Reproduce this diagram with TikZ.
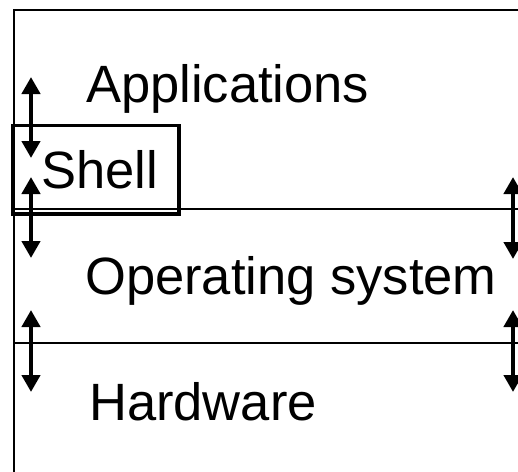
\documentclass[tikz,border=0pt]{standalone}
\usepackage{fontspec}
\setmainfont{Liberation Sans}
\usetikzlibrary{arrows.meta}
\tikzset{
  lbl/.style={anchor=base west, inner sep=0pt, font=\fontsize{52.5}{60}\selectfont},
  frame/.style={line width=2pt},
  sep/.style={line width=2pt},
  shellbox/.style={line width=3.5pt},
  dbl/.style={line width=4.5pt, {Triangle[width=18pt,length=17pt]}-{Triangle[width=18pt,length=17pt]}}
}
\begin{document}
\begin{tikzpicture}[x=1pt,y=-1pt]
\useasboundingbox (0,0) rectangle (518,471);
\clip (0,0) rectangle (518,471);
\fill[white] (0,0) rectangle (518,471);
% outer frame
\draw[frame] (14,500) -- (14,9.5) -- (540,9.5);
% separators
\coordinate (s1l) at (14,209); \coordinate (s1r) at (540,209);
\coordinate (s2l) at (14,343); \coordinate (s2r) at (540,343);
\draw[sep] (s1l) -- (s1r);
\draw[sep] (s2l) -- (s2r);
% shell box
\draw[shellbox] (13,125.5) rectangle (179,214);
% labels
\node[lbl] (app) at (86,102) {Applications};
\node[lbl] (shell) at (41,188) {Shell};
\node[lbl] (os) at (85,294) {Operating system};
\node[lbl] (hw) at (89,420) {Hardware};
% arrows
\coordinate (a1t) at (31,77);  \coordinate (a1b) at (31,158);
\coordinate (a2t) at (31,177); \coordinate (a2b) at (31,258);
\coordinate (a3t) at (31,310); \coordinate (a3b) at (31,392);
\coordinate (b1t) at (513,177); \coordinate (b1b) at (513,259);
\coordinate (b2t) at (513,310); \coordinate (b2b) at (513,392);
\draw[dbl] (a1t) -- (a1b);
\draw[dbl] (a2t) -- (a2b);
\draw[dbl] (a3t) -- (a3b);
\draw[dbl] (b1t) -- (b1b);
\draw[dbl] (b2t) -- (b2b);
\end{tikzpicture}
\end{document}
